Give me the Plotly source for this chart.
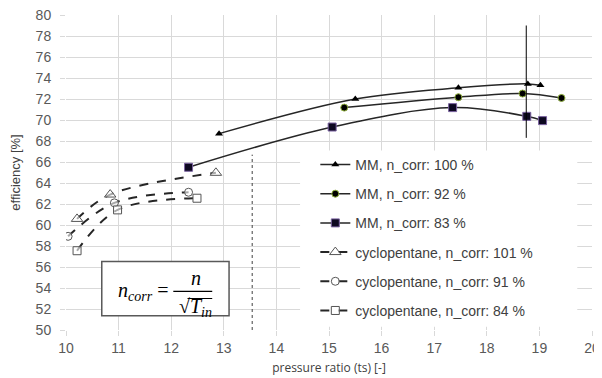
import plotly.graph_objects as go

# ---- data ----
mm100_x = [12.91, 15.50, 17.46, 18.78, 19.02]
mm100_y = [68.70, 72.00, 73.06, 73.44, 73.30]
mm92_x = [15.29, 17.46, 18.68, 19.42]
mm92_y = [71.18, 72.17, 72.52, 72.10]
mm83_x = [12.33, 15.06, 17.35, 18.76, 19.06]
mm83_y = [65.50, 69.33, 71.18, 70.35, 69.94]
cp101_x = [10.21, 10.84, 12.85]
cp101_y = [60.58, 62.90, 64.97]
cp91_x = [10.04, 10.92, 12.33]
cp91_y = [58.92, 62.11, 63.12]
cp84_x = [10.21, 10.98, 12.49]
cp84_y = [57.55, 61.44, 62.55]

names = ["MM, n_corr: 100 %", "MM, n_corr: 92 %", "MM, n_corr: 83 %",
         "cyclopentane, n_corr: 101 %", "cyclopentane, n_corr: 91 %",
         "cyclopentane, n_corr: 84 %"]

x_ticks = list(range(10, 21))
y_ticks = list(range(50, 81, 2))

fig = go.Figure()

LINE = "#262626"
# MM traces
fig.add_trace(go.Scatter(x=mm100_x, y=mm100_y, name=names[0], legendgroup="a",
                         mode="lines+markers", line=dict(color=LINE, width=1.5, shape="spline"),
                         marker=dict(symbol="triangle-up", size=7, color="black")))
fig.add_trace(go.Scatter(x=mm92_x, y=mm92_y, name=names[1], legendgroup="b",
                         mode="lines+markers", line=dict(color=LINE, width=1.5, shape="spline"),
                         marker=dict(symbol="circle", size=7, color="black",
                                     line=dict(color="#8fae3c", width=1))))
fig.add_trace(go.Scatter(x=mm83_x, y=mm83_y, name=names[2], legendgroup="c",
                         mode="lines+markers", line=dict(color=LINE, width=1.5, shape="spline"),
                         marker=dict(symbol="square", size=8, color="#0d0820",
                                     line=dict(color="#7a62a0", width=1))))
# cyclopentane traces
for xs, ys, nm, sym, sz, g in [(cp101_x, cp101_y, names[3], "triangle-up", 10, "d"),
                               (cp91_x, cp91_y, names[4], "circle", 8, "e"),
                               (cp84_x, cp84_y, names[5], "square", 8, "f")]:
    fig.add_trace(go.Scatter(x=xs, y=ys, name=nm, legendgroup=g,
                             mode="lines+markers",
                             line=dict(color=LINE, width=2, dash="dash", shape="spline"),
                             marker=dict(symbol=sym, size=sz, color="rgba(255,255,255,0.6)",
                                         line=dict(color="#555555", width=1))))

# white area behind legend (hides gridlines)
fig.add_shape(type="rect", x0=14.45, x1=19.72, y0=50.3, y1=67.1,
              line=dict(width=0), fillcolor="white", layer="between")

# reference lines
fig.add_shape(type="line", x0=13.54, x1=13.54, y0=50, y1=66.7,
              line=dict(color="#404040", width=1, dash="dot"))
fig.add_shape(type="line", x0=18.75, x1=18.75, y0=68.3, y1=79.0,
              line=dict(color="black", width=1))

# formula box
fig.add_shape(type="rect", x0=10.68, x1=13.10, y0=51.35, y1=56.53,
              line=dict(color="#595959", width=1.5), fillcolor="white", layer="above")
fig.add_shape(type="line", x0=12.04, x1=12.78, y0=53.67, y1=53.67,
              line=dict(color="black", width=1.3), layer="above")
fig.add_shape(type="line", x0=12.31, x1=12.78, y0=53.0, y1=53.0,
              line=dict(color="black", width=1), layer="above")
ffont = dict(family="Liberation Serif", size=20, color="black")
fig.add_annotation(x=11.985, y=53.67, xref="x", yref="y", xanchor="right", yanchor="middle",
                   text="<i>n</i><sub><i>corr</i></sub> =", showarrow=False, font=ffont)
fig.add_annotation(x=12.48, y=54.97, xref="x", yref="y", xanchor="center", yanchor="middle",
                   text="<i>n</i>", showarrow=False, font=ffont)
fig.add_annotation(x=12.46, y=52.15, xref="x", yref="y", xanchor="center", yanchor="middle",
                   text="√<i>T</i><sub><i>in</i></sub>", showarrow=False, font=ffont)

tickfont = dict(family="Liberation Sans", size=14, color="#595959")
fig.update_xaxes(range=[10, 20], tickvals=x_ticks, showgrid=True, gridcolor="#d9d9d9",
                 gridwidth=1, zeroline=False, showline=False, ticks="outside", ticklen=5,
                 tickcolor="#d9d9d9", tickfont=tickfont, automargin=False,
                 ticklabeloverflow="allow",
                 title=dict(text="pressure ratio (ts) [-]",
                            font=dict(family="Open Sans", size=12, color="#404040"),
                            standoff=8))
fig.update_yaxes(range=[50, 80], tickvals=y_ticks, showgrid=True, gridcolor="#d9d9d9",
                 gridwidth=1, zeroline=False, showline=False, ticks="outside", ticklen=5,
                 tickcolor="#d9d9d9", tickfont=tickfont, automargin=False,
                 ticklabelstandoff=6, ticklabeloverflow="allow",
                 title=dict(text="efficiency [%]",
                            font=dict(family="Liberation Sans", size=13, color="#404040"),
                            standoff=12))

# page body has an 8px margin: the figure is sized/offset to compensate
fig.update_layout(
    width=594, height=370,
    margin=dict(l=58, r=10, t=7, b=48),
    plot_bgcolor="white", paper_bgcolor="white",
    legend=dict(x=0.474, y=0.575, xanchor="left", yanchor="top",
                bgcolor="rgba(0,0,0,0)", borderwidth=0, itemwidth=30,
                tracegroupgap=8,
                font=dict(family="Liberation Sans", size=14, color="#404040")),
    showlegend=True,
)

fig.write_html("out.html")
